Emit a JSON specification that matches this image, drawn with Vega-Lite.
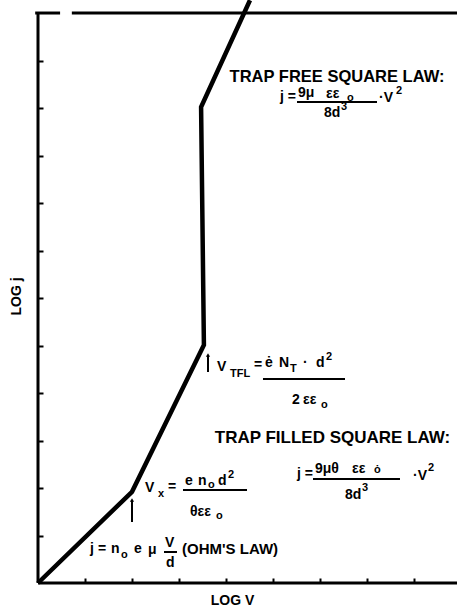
{
  "$schema": "https://vega.github.io/schema/vega-lite/v6.json",
  "width": 419,
  "height": 583,
  "autosize": {"type": "none"},
  "padding": {"left": 38, "top": 0, "right": 0, "bottom": 24},
  "background": "white",
  "config": {
    "view": {"stroke": null},
    "text": {"font": "Liberation Sans", "fontWeight": "bold", "color": "black", "align": "left", "baseline": "middle"},
    "axis": {"titleFont": "Liberation Sans", "titleFontWeight": "bold", "titleFontSize": 14, "titleColor": "black", "tickColor": "black", "labels": false, "domain": false, "grid": false, "tickSize": -5, "tickWidth": 2}
  },
  "datasets": {
    "frame": [
      {"x": 0, "y": 0, "x2": 0, "y2": 12},
      {"x": 0, "y": 0, "x2": 8.915, "y2": 0},
      {"x": -0.06, "y": 12, "x2": 0.47, "y2": 12},
      {"x": 0.72, "y": 12, "x2": 8.915, "y2": 12}
    ],
    "curve": [
      {"i": 0, "x": 0, "y": 0},
      {"i": 1, "x": 2.0, "y": 1.92},
      {"i": 2, "x": 3.53, "y": 5.01},
      {"i": 3, "x": 3.47, "y": 10.02},
      {"i": 4, "x": 4.51, "y": 12.27}
    ],
    "arrows": [
      {"x": 3.617, "y": 4.442, "y2": 4.8},
      {"x": 2.0, "y": 1.284, "y2": 1.747}
    ],
    "bars": [
      {"x": 5.511, "x2": 7.213, "y": 10.126},
      {"x": 4.787, "x2": 6.532, "y": 4.295},
      {"x": 3.085, "x2": 4.447, "y": 1.958},
      {"x": 5.851, "x2": 7.702, "y": 2.189},
      {"x": 2.681, "x2": 2.957, "y": 0.653}
    ],
    "big": [
      {"t": "TRAP FREE SQUARE LAW:", "x": 6.362, "y": 10.653}
    ],
    "big2": [
      {"t": "TRAP FILLED SQUARE LAW:", "x": 6.266, "y": 3.053}
    ],
    "mid": [
      {"t": "j =", "x": 5.149, "y": 10.232},
      {"t": "9μ", "x": 5.532, "y": 10.316},
      {"t": "εε", "x": 6.128, "y": 10.295},
      {"t": "8d", "x": 6.085, "y": 9.895},
      {"t": "·V", "x": 7.255, "y": 10.211},
      {"t": "V", "x": 3.809, "y": 4.547},
      {"t": "=", "x": 4.596, "y": 4.589},
      {"t": "ė", "x": 4.83, "y": 4.632},
      {"t": "N", "x": 5.128, "y": 4.632},
      {"t": "·", "x": 5.638, "y": 4.632},
      {"t": "d", "x": 5.915, "y": 4.632},
      {"t": "2", "x": 5.404, "y": 3.853},
      {"t": "εε", "x": 5.638, "y": 3.853},
      {"t": "V", "x": 2.277, "y": 2.0},
      {"t": "=", "x": 2.766, "y": 2.021},
      {"t": "e", "x": 3.128, "y": 2.147},
      {"t": "n", "x": 3.404, "y": 2.147},
      {"t": "d", "x": 3.83, "y": 2.147},
      {"t": "θεε", "x": 3.234, "y": 1.495},
      {"t": "j =", "x": 5.511, "y": 2.295},
      {"t": "9μθ", "x": 5.894, "y": 2.4},
      {"t": "εε", "x": 6.681, "y": 2.4},
      {"t": "8d", "x": 6.532, "y": 1.853},
      {"t": "·V", "x": 7.979, "y": 2.253},
      {"t": "j", "x": 1.106, "y": 0.716},
      {"t": "=", "x": 1.277, "y": 0.716},
      {"t": "n", "x": 1.553, "y": 0.716},
      {"t": "e", "x": 2.043, "y": 0.716},
      {"t": "μ", "x": 2.34, "y": 0.695},
      {"t": "V", "x": 2.702, "y": 0.842},
      {"t": "d", "x": 2.723, "y": 0.421}
    ],
    "ohm": [
      {"t": "(OHM'S LAW)", "x": 3.064, "y": 0.716}
    ],
    "sub": [
      {"t": "o", "x": 6.574, "y": 10.211},
      {"t": "TFL", "x": 4.085, "y": 4.4},
      {"t": "T", "x": 5.362, "y": 4.505},
      {"t": "o", "x": 6.021, "y": 3.747},
      {"t": "x", "x": 2.553, "y": 1.874},
      {"t": "o", "x": 3.617, "y": 2.063},
      {"t": "o", "x": 3.787, "y": 1.411},
      {"t": "ȯ", "x": 7.149, "y": 2.379},
      {"t": "o", "x": 1.766, "y": 0.589}
    ],
    "sup": [
      {"t": "3", "x": 6.447, "y": 10.021},
      {"t": "2", "x": 7.617, "y": 10.358},
      {"t": "2", "x": 6.128, "y": 4.758},
      {"t": "2", "x": 4.043, "y": 2.274},
      {"t": "3", "x": 6.894, "y": 2.0},
      {"t": "2", "x": 8.298, "y": 2.421}
    ]
  },
  "encoding": {
    "x": {
      "field": "x", "type": "quantitative",
      "scale": {"domain": [0, 8.915], "nice": false, "zero": false},
      "axis": {"values": [1, 2, 3, 4, 5, 6, 7, 8], "title": "LOG V", "titleX": 194, "titleY": 17, "titleBaseline": "middle", "titleAlign": "center"}
    },
    "y": {
      "field": "y", "type": "quantitative",
      "scale": {"domain": [0, 12.274], "nice": false, "zero": false},
      "axis": {"values": [1, 2, 3, 4, 5, 6, 7, 8, 9, 10, 11], "title": "LOG j", "titleX": -22, "titleY": 296, "titleAngle": -90, "titleBaseline": "middle", "titleAlign": "center"}
    }
  },
  "layer": [
    {
      "data": {"name": "frame"},
      "mark": {"type": "rule", "strokeWidth": 3, "color": "black"},
      "encoding": {"x2": {"field": "x2"}, "y2": {"field": "y2"}}
    },
    {
      "data": {"name": "curve"},
      "mark": {"type": "line", "strokeWidth": 4.5, "color": "black", "strokeJoin": "miter"},
      "encoding": {"order": {"field": "i", "type": "quantitative"}}
    },
    {
      "data": {"name": "arrows"},
      "mark": {"type": "rule", "strokeWidth": 2, "color": "black"},
      "encoding": {"y2": {"field": "y2"}}
    },
    {
      "data": {"name": "arrows"},
      "mark": {"type": "point", "shape": "triangle-up", "size": 18, "filled": true, "color": "black", "opacity": 1},
      "encoding": {"y": {"field": "y2", "type": "quantitative"}}
    },
    {
      "data": {"name": "bars"},
      "mark": {"type": "rule", "strokeWidth": 2, "color": "black"},
      "encoding": {"x2": {"field": "x2"}}
    },
    {
      "data": {"name": "big"},
      "mark": {"type": "text", "fontSize": 16.5, "align": "center"},
      "encoding": {"text": {"field": "t"}}
    },
    {
      "data": {"name": "big2"},
      "mark": {"type": "text", "fontSize": 17, "align": "center"},
      "encoding": {"text": {"field": "t"}}
    },
    {
      "data": {"name": "mid"},
      "mark": {"type": "text", "fontSize": 14},
      "encoding": {"text": {"field": "t"}}
    },
    {
      "data": {"name": "ohm"},
      "mark": {"type": "text", "fontSize": 15},
      "encoding": {"text": {"field": "t"}}
    },
    {
      "data": {"name": "sub"},
      "mark": {"type": "text", "fontSize": 11},
      "encoding": {"text": {"field": "t"}}
    },
    {
      "data": {"name": "sup"},
      "mark": {"type": "text", "fontSize": 11},
      "encoding": {"text": {"field": "t"}}
    }
  ]
}
